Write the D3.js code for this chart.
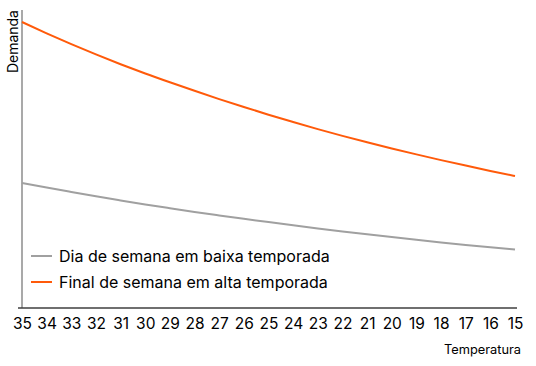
<!DOCTYPE html>
<html><head><meta charset="utf-8">
<script src="https://cdn.jsdelivr.net/npm/d3@7"></script>
<style>body{margin:0;background:#fff}svg{display:block;font-family:Inter,"Open Sans",sans-serif}</style>
</head><body><svg id="c" width="536" height="366"></svg>
<script>
const temperatures = [35,34,33,32,31,30,29,28,27,26,25,24,23,22,21,20,19,18,17,16,15];
const seriesNames = ["Dia de semana em baixa temporada","Final de semana em alta temporada"];
const weekdayLow = [125,120.4,116.0,111.7,107.6,103.6,99.8,96.1,92.6,89.2,85.9,82.7,79.6,76.6,73.7,70.9,68.2,65.6,63.1,60.7,58.4];
const weekendHigh = [286,274.7,263.9,253.6,243.8,234.5,225.7,217.2,208.9,201.0,193.3,186.0,178.9,172.1,165.7,159.5,153.6,147.9,142.4,137.1,132.0];
const colors = ["#a0a0a0","#ff5a0a"];

const svg = d3.select("#c");
const x = d3.scalePoint().domain(temperatures).range([22,515]);
const y = d3.scaleLinear().domain([0,298]).range([308,10]);

// axes
svg.append("line").attr("x1",22).attr("x2",22).attr("y1",y(298)).attr("y2",y(0))
  .attr("stroke","#8c8c8c").attr("stroke-width",1.5);
const xa = svg.append("g").attr("transform","translate(0,308)")
  .call(d3.axisBottom(x).tickSize(0).tickPadding(10));
xa.select(".domain").attr("d","M18,0H517").attr("stroke","#3f3f3f").attr("stroke-width",1.5);
xa.selectAll("text").attr("font-size",15.5).attr("fill","#000").attr("font-family","Inter,'Open Sans',sans-serif");

const line = d3.line().x((d,i)=>x(temperatures[i])).y(d=>y(d)).curve(d3.curveMonotoneX);
[weekdayLow, weekendHigh].forEach((s,k)=>{
  svg.append("path").datum(s).attr("d",line).attr("fill","none")
    .attr("stroke",colors[k]).attr("stroke-width",2);
});

// legend
seriesNames.forEach((n,k)=>{
  const ly = 256 + k*26;
  svg.append("line").attr("x1",31).attr("x2",52).attr("y1",ly).attr("y2",ly)
    .attr("stroke",colors[k]).attr("stroke-width",2);
  svg.append("text").attr("x",59).attr("y",ly+5.5).attr("font-size",16).text(n);
});

svg.append("text").attr("x",521).attr("y",354).attr("text-anchor","end").attr("font-size",12.8).text("Temperatura");
svg.append("text").attr("transform","translate(18,10) rotate(-90)").attr("text-anchor","end").attr("font-size",14).text("Demanda");
</script></body></html>
